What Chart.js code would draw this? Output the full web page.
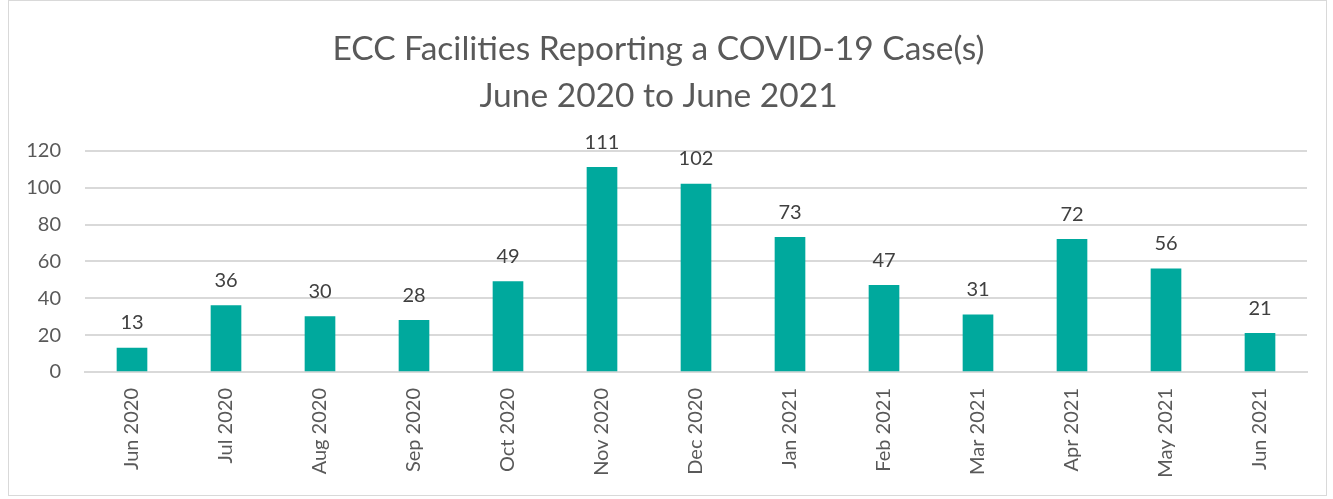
<!DOCTYPE html>
<html>
<head>
<meta charset="utf-8">
<script src="https://cdn.jsdelivr.net/npm/chart.js@4"></script>
<style>
  html, body { margin: 0; padding: 0; background: #fff; }
  #frame {
    position: absolute; left: 8px; top: 0; width: 1319px; height: 496px;
    border: 1px solid #d9d9d9; box-sizing: border-box;
  }
  #wrap { position: absolute; left: 0; top: 0; width: 1333px; height: 499px; }
</style>
</head>
<body>
<div id="frame"></div>
<div id="wrap"><canvas id="grafico"></canvas></div>
<script>
const meses = ["Jun 2020", "Jul 2020", "Aug 2020", "Sep 2020", "Oct 2020", "Nov 2020",
  "Dec 2020", "Jan 2021", "Feb 2021", "Mar 2021", "Apr 2021", "May 2021", "Jun 2021"];
const casos = [13, 36, 30, 28, 49, 111, 102, 73, 47, 31, 72, 56, 21];
const ticksY = [0, 20, 40, 60, 80, 100, 120];

const fonte = "Lato, 'Open Sans', sans-serif";

// rotulos de valor acima das barras
const rotulos = {
  id: "rotulos",
  afterDatasetsDraw(chart) {
    const ctx = chart.ctx;
    const meta = chart.getDatasetMeta(0);
    ctx.save();
    ctx.font = "20px " + fonte;
    ctx.fillStyle = "#404040";
    ctx.textAlign = "center";
    ctx.textBaseline = "bottom";
    meta.data.forEach((bar, i) => {
      ctx.fillText(casos[i], bar.x, bar.y - 15);
    });
    ctx.restore();
  }
};

const ctx = document.getElementById("grafico").getContext("2d");
new Chart(ctx, {
  type: "bar",
  data: {
    labels: meses,
    datasets: [{
      data: casos,
      backgroundColor: "#00A99D",
      barThickness: 30
    }]
  },
  options: {
    responsive: true,
    maintainAspectRatio: false,
    animation: false,
    layout: { padding: { left: 10, right: 26, top: 26, bottom: 0 } },
    plugins: {
      legend: { display: false },
      tooltip: { enabled: false },
      title: {
        display: true,
        text: ["ECC Facilities Reporting a COVID-19 Case(s)", "June 2020 to June 2021"],
        color: "#595959",
        font: { family: fonte, size: 33.5, weight: "normal", lineHeight: 1.4 },
        padding: { top: 0, bottom: 31 }
      }
    },
    scales: {
      x: {
        grid: { display: false },
        border: { color: "#d9d9d9", width: 2 },
        ticks: {
          color: "#595959",
          font: { family: fonte, size: 20 },
          minRotation: 90,
          maxRotation: 90,
          padding: 8
        },
        afterFit(scale) { scale.height = 127; }
      },
      y: {
        min: 0,
        max: 120,
        afterBuildTicks(scale) { scale.ticks = ticksY.map((v) => ({ value: v })); },
        grid: { color: "#d9d9d9", lineWidth: 2, drawTicks: false },
        border: { display: false },
        ticks: {
          color: "#595959",
          font: { family: fonte, size: 20 },
          padding: 24
        },
        afterFit(scale) { scale.width = 75; }
      }
    }
  },
  plugins: [rotulos]
});
</script>
</body>
</html>
